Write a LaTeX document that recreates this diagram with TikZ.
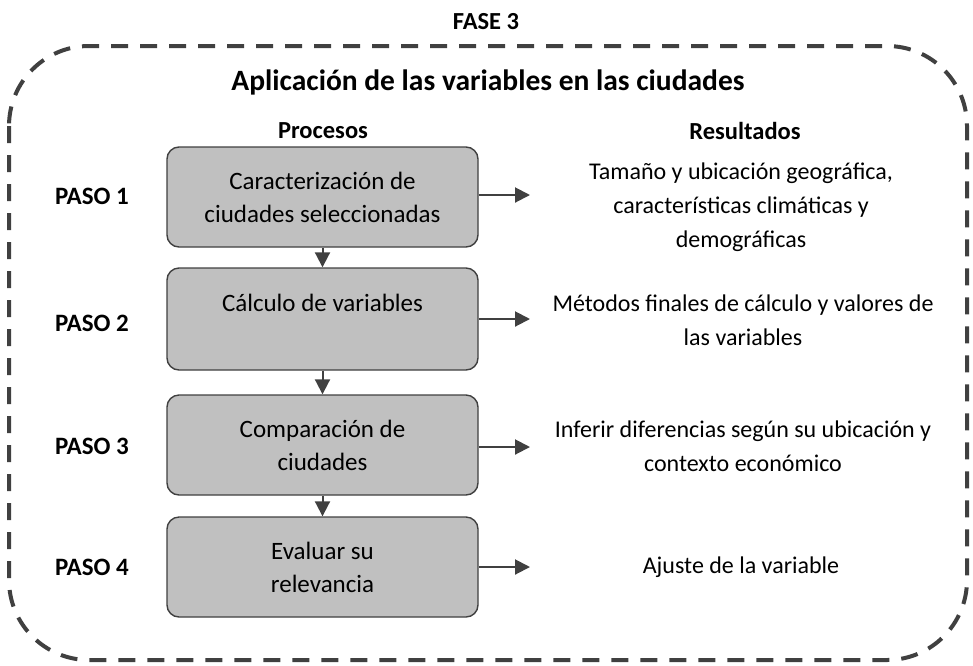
\documentclass[tikz,border=0pt]{standalone}
\usepackage{fontspec}
\setmainfont{Carlito}
\definecolor{boxgray}{RGB}{192,192,192}
\definecolor{linegray}{RGB}{64,64,64}
\usetikzlibrary{arrows.meta,positioning}

\begin{document}
\begin{tikzpicture}[x=1pt, y=-1pt,
    proc/.style={rectangle, rounded corners=12pt, minimum width=311pt, minimum height=100pt,
      draw=linegray, line width=1.4pt, fill=boxgray, align=center, font=\fontsize{25}{33}\selectfont},
    paso/.style={font=\fontsize{25}{28}\selectfont\bfseries},
    result/.style={align=center, font=\fontsize{24}{34}\selectfont},
    head/.style={font=\fontsize{24.5}{28}\selectfont\bfseries},
    arr/.style={draw=linegray, line width=2pt, -{Triangle[length=15pt,width=15pt]}}
  ]
    \useasboundingbox (0,0) rectangle (973,665);

    % Outer frame
    \node[head] (fase) at (486,22) {FASE 3};
    \draw[linegray, line width=4pt, dash pattern=on 17pt off 12pt, rounded corners=80pt]
      (9,46) rectangle (967,660);
    \node[font=\fontsize{29.5}{33}\selectfont\bfseries] (title) at (488,82)
      {Aplicación de las variables en las ciudades};

    % Column heads
    \node[head] (proc) at (323,131) {Procesos};
    \node[head] (res) at (745,131) {Resultados};

    % Process boxes
    \node[proc] (p1) at (322.5,197) {Caracterización de\\ciudades seleccionadas};
    \node[proc, minimum height=102pt] (p2) at (322.5,319) {Cálculo de variables\\\mbox{}};
    \node[proc] (p3) at (322.5,445) {Comparación de\\ciudades};
    \node[proc] (p4) at (322.5,567) {Evaluar su\\relevancia};

    % Steps
    \node[paso] (s1) at (92,196) {PASO 1};
    \node[paso] (s2) at (92,323) {PASO 2};
    \node[paso] (s3) at (92,446) {PASO 3};
    \node[paso] (s4) at (92,567) {PASO 4};

    % Results
    \node[result] (r1) at (741,207) {Tamaño y ubicación geográfica,\\características climáticas y\\demográficas};
    \node[result] (r2) at (743,320) {Métodos finales de cálculo y valores de\\las variables};
    \node[result] (r3) at (743,446) {Inferir diferencias según su ubicación y\\contexto económico};
    \node[result] (r4) at (741,567) {Ajuste de la variable};

    % Arrow ends
    \coordinate (e1) at (530,195);
    \coordinate (e2) at (530,319);
    \coordinate (e3) at (530,447);
    \coordinate (e4) at (530,567);

    \draw[arr] (p1.east |- e1) -- (e1);
    \draw[arr] (p2.east |- e2) -- (e2);
    \draw[arr] (p3.east |- e3) -- (e3);
    \draw[arr] (p4.east |- e4) -- (e4);

    \draw[arr] (p1) -- (p2);
    \draw[arr] (p2) -- (p3);
    \draw[arr] (p3) -- (p4);

  \end{tikzpicture}
\end{document}
